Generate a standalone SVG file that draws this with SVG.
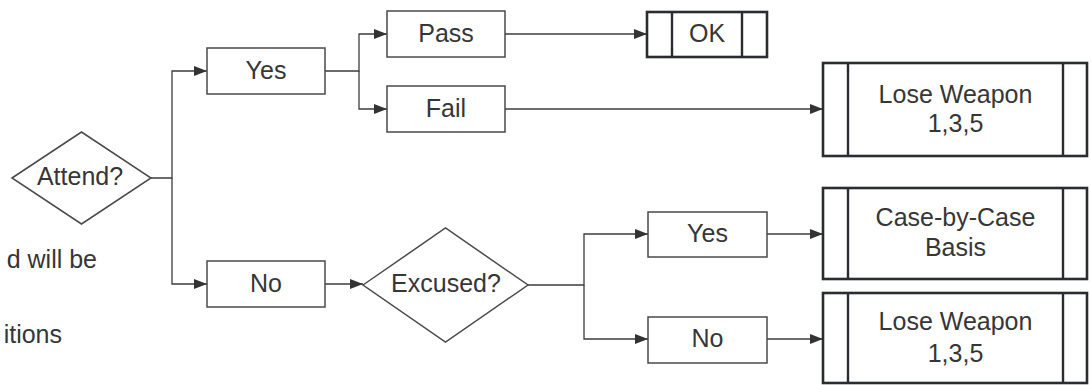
<svg xmlns="http://www.w3.org/2000/svg" width="1091" height="385" viewBox="0 0 1091 385">
  <style>
    text { font-family: "Liberation Sans", Arial, sans-serif; font-size: 25px; fill: #363636; text-anchor: middle; }
    .box { fill: #fff; stroke: #4a4a4a; stroke-width: 1.5; }
    .term { fill: #fff; stroke: #2a2c32; stroke-width: 2.6; }
    .bar { stroke: #2a2c32; stroke-width: 2.4; }
    .conn { fill: none; stroke: #3c3c3c; stroke-width: 1.3; }
  </style>
  <defs>
    <marker id="arrow" markerUnits="userSpaceOnUse" markerWidth="14" markerHeight="11" refX="13" refY="5" orient="auto">
      <path d="M0,0 L13,5 L0,10 Z" fill="#333"/>
    </marker>
  </defs>
  <rect width="1091" height="385" fill="#fff"/>

  <g id="side-text">
    <text x="97" y="268" style="text-anchor:end">d will be</text>
    <text x="62" y="343" style="text-anchor:end">itions</text>
  </g>

  <g id="connectors">
    <path class="conn" d="M151,178 H172 V71 H207" marker-end="url(#arrow)"/>
    <path class="conn" d="M172,178 V284 H207" marker-end="url(#arrow)"/>
    <path class="conn" d="M325,71 H359 V34 H387" marker-end="url(#arrow)"/>
    <path class="conn" d="M359,71 V109 H387" marker-end="url(#arrow)"/>
    <path class="conn" d="M505,34 H647" marker-end="url(#arrow)"/>
    <path class="conn" d="M505,109 H823" marker-end="url(#arrow)"/>
    <path class="conn" d="M325,284 H363" marker-end="url(#arrow)"/>
    <path class="conn" d="M528,285 H584 V234 H648" marker-end="url(#arrow)"/>
    <path class="conn" d="M584,285 V339 H648" marker-end="url(#arrow)"/>
    <path class="conn" d="M767,234 H823" marker-end="url(#arrow)"/>
    <path class="conn" d="M767,339 H823" marker-end="url(#arrow)"/>
  </g>

  <g id="attend">
    <polygon class="box" points="12,178 81.5,132 151,178 81.5,224"/>
    <text x="80" y="185">Attend?</text>
  </g>

  <g id="yes1">
    <rect class="box" x="207" y="48" width="118" height="46"/>
    <text x="266" y="79">Yes</text>
  </g>

  <g id="pass">
    <rect class="box" x="387" y="11" width="118" height="46"/>
    <text x="446" y="42">Pass</text>
  </g>

  <g id="fail">
    <rect class="box" x="387" y="86" width="118" height="46"/>
    <text x="446" y="117">Fail</text>
  </g>

  <g id="ok">
    <rect class="term" x="647" y="12" width="120" height="45"/>
    <line class="bar" x1="672" y1="12" x2="672" y2="57"/>
    <line class="bar" x1="742" y1="12" x2="742" y2="57"/>
    <text x="707" y="42">OK</text>
  </g>

  <g id="lose1">
    <rect class="term" x="823" y="63" width="264" height="93"/>
    <line class="bar" x1="848" y1="63" x2="848" y2="156"/>
    <line class="bar" x1="1063" y1="63" x2="1063" y2="156"/>
    <text x="955.5" y="103">Lose Weapon</text>
    <text x="955.5" y="132">1,3,5</text>
  </g>

  <g id="no1">
    <rect class="box" x="207" y="261" width="118" height="46"/>
    <text x="266" y="292">No</text>
  </g>

  <g id="excused">
    <polygon class="box" points="363,285 445.5,228 528,285 445.5,342"/>
    <text x="446" y="292">Excused?</text>
  </g>

  <g id="yes2">
    <rect class="box" x="648" y="212" width="119" height="45"/>
    <text x="707.5" y="242">Yes</text>
  </g>

  <g id="no2">
    <rect class="box" x="648" y="317" width="119" height="46"/>
    <text x="707.5" y="347">No</text>
  </g>

  <g id="case">
    <rect class="term" x="823" y="188" width="264" height="91"/>
    <line class="bar" x1="848" y1="188" x2="848" y2="279"/>
    <line class="bar" x1="1063" y1="188" x2="1063" y2="279"/>
    <text x="955.5" y="226">Case-by-Case</text>
    <text x="955.5" y="256">Basis</text>
  </g>

  <g id="lose2">
    <rect class="term" x="823" y="293" width="264" height="90"/>
    <line class="bar" x1="848" y1="293" x2="848" y2="383"/>
    <line class="bar" x1="1063" y1="293" x2="1063" y2="383"/>
    <text x="955.5" y="330">Lose Weapon</text>
    <text x="955.5" y="362">1,3,5</text>
  </g>
</svg>
